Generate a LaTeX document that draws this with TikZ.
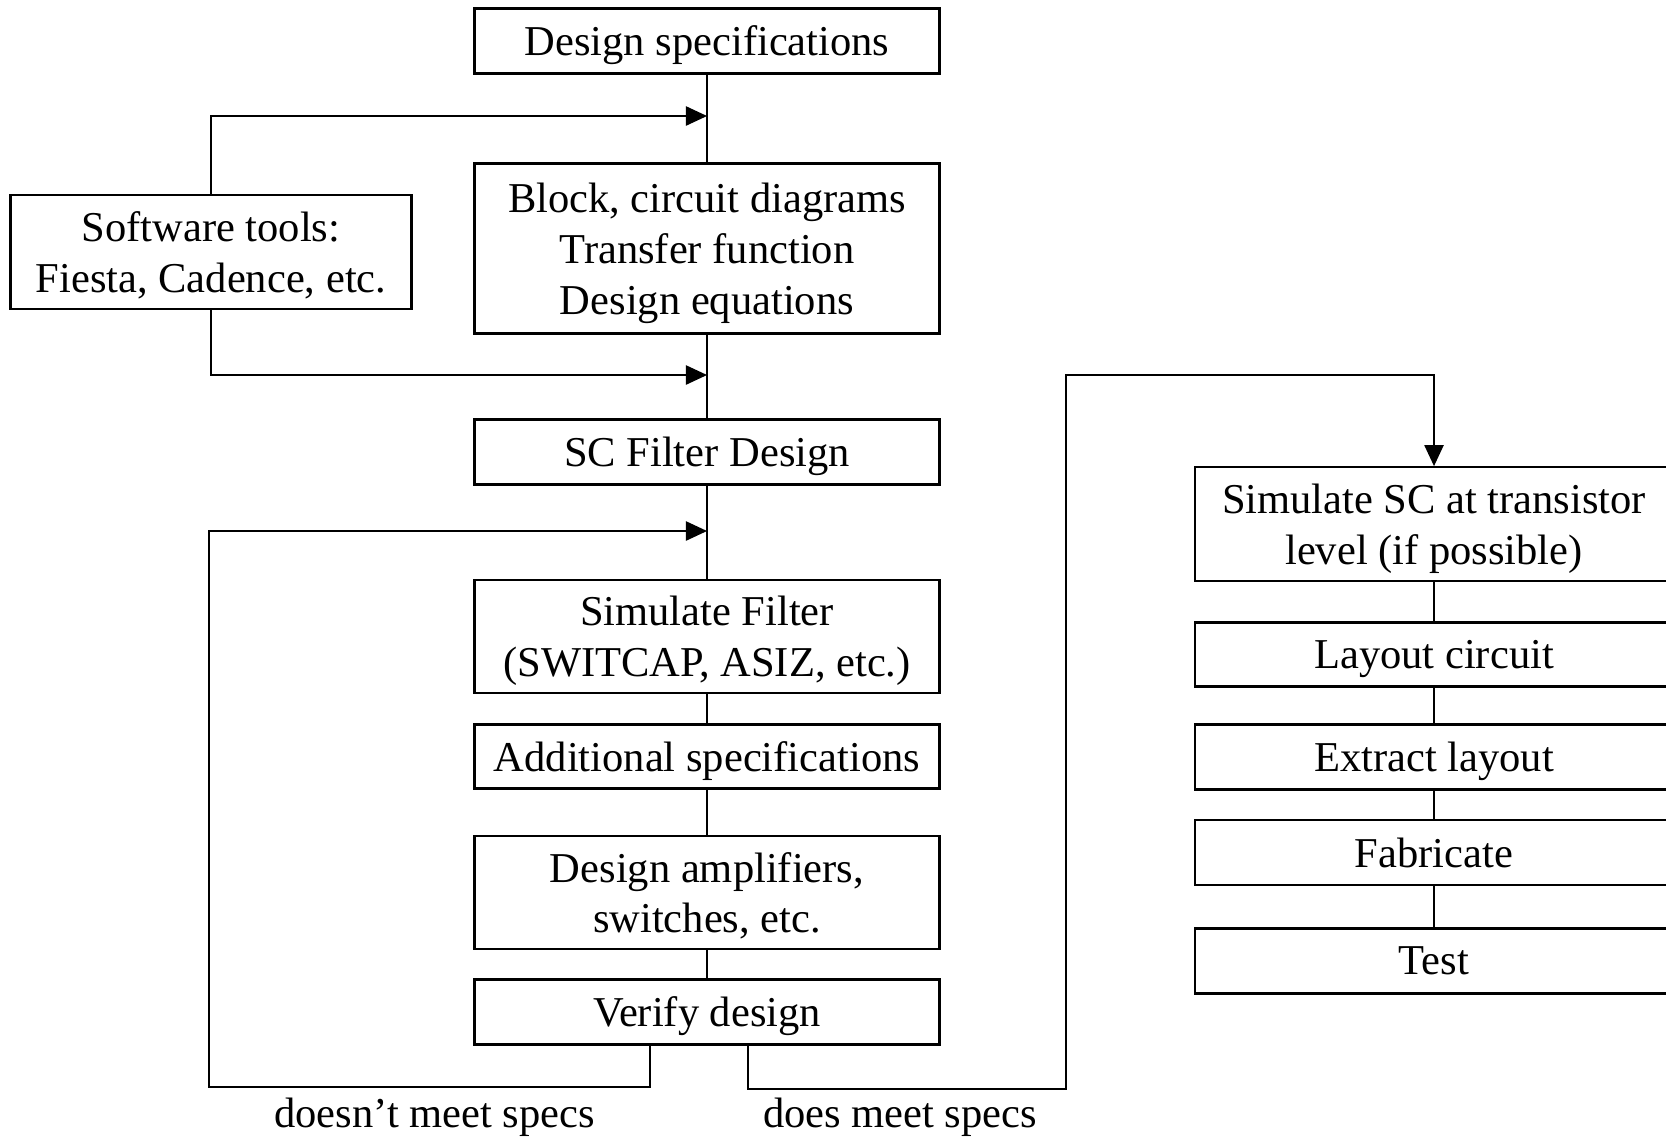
\documentclass[tikz,border=0pt]{standalone}
\usepackage{fontspec}
\setmainfont{Liberation Serif}
\usetikzlibrary{arrows.meta}
\tikzset{
  stage/.style={draw, line width=1.3pt, align=center, inner sep=0pt, text depth=0pt,
    minimum width=9.3cm, font=\fontsize{24.2pt}{29pt}\selectfont},
  wide/.style={stage, minimum width=9.56cm},
  link/.style={line width=0.8pt},
  feed/.style={link, -{Triangle[length=12pt,width=11pt]}}
}
\begin{document}
\begin{tikzpicture}[x=0.02cm, y=-0.02cm]
\useasboundingbox (0,0) rectangle (1666,1137);
% main column
\node[stage, minimum height=1.3cm] (spec) at (707,41) {Design specifications};
\node[stage, minimum height=3.4cm] (blocks) at (707,248.6) {Block, circuit diagrams\\Transfer function\\Design equations};
\node[stage, minimum width=8.02cm, minimum height=2.27cm] (tools) at (211,252) {Software tools:\\Fiesta, Cadence, etc.};
\node[stage, minimum height=1.3cm] (scdesign) at (707,452) {SC Filter Design};
\node[stage, minimum height=2.26cm] (simfilt) at (707,636.5) {Simulate Filter\\(SWITCAP, ASIZ, etc.)};
\node[stage, minimum height=1.28cm] (addspec) at (707,756.5) {Additional specifications};
\node[stage, minimum height=2.26cm] (amps) at (707,892.5) {Design amplifiers,\\switches, etc.};
\node[stage, minimum height=1.3cm] (verify) at (707,1012) {Verify design};
% right column
\node[wide, minimum height=2.27cm] (simsc) at (1434,524) {Simulate SC at transistor\\level (if possible)};
\node[wide, minimum height=1.28cm] (layout) at (1434,654.5) {Layout circuit};
\node[wide, minimum height=1.3cm] (extract) at (1434,757) {Extract layout};
\node[wide, minimum height=1.3cm] (fab) at (1434,852.5) {Fabricate};
\node[wide, minimum height=1.3cm] (test) at (1434,961) {Test};
% labels
\node[font=\fontsize{24.2pt}{29pt}\selectfont] (nolbl) at (434.6,1117) {doesn’t meet specs};
\node[font=\fontsize{24.2pt}{29pt}\selectfont] (oklbl) at (900,1117) {does meet specs};
% join points
\coordinate (in1) at (707,116);
\coordinate (in2) at (707,375);
\coordinate (in3) at (707,531);
\coordinate (nomeet) at (650,1044.4);
\coordinate (lowL) at (209,1087);
\coordinate (meet) at (748,1044.4);
\coordinate (lowR) at (1066,1089);
\coordinate (topR) at (1066,375);
% connectors
\draw[link] (spec) -- (blocks);
\draw[link] (blocks) -- (scdesign);
\draw[link] (scdesign) -- (simfilt);
\draw[link] (simfilt) -- (addspec);
\draw[link] (addspec) -- (amps);
\draw[link] (amps) -- (verify);
\draw[feed] (tools.north) |- (in1);
\draw[feed] (tools.south) |- (in2);
\draw[feed] (nomeet) |- (lowL) |- (in3);
\draw[feed] (meet) |- (lowR) -- (topR) -| (simsc.north);
\draw[link] (simsc) -- (layout);
\draw[link] (layout) -- (extract);
\draw[link] (extract) -- (fab);
\draw[link] (fab) -- (test);
\end{tikzpicture}
\end{document}
